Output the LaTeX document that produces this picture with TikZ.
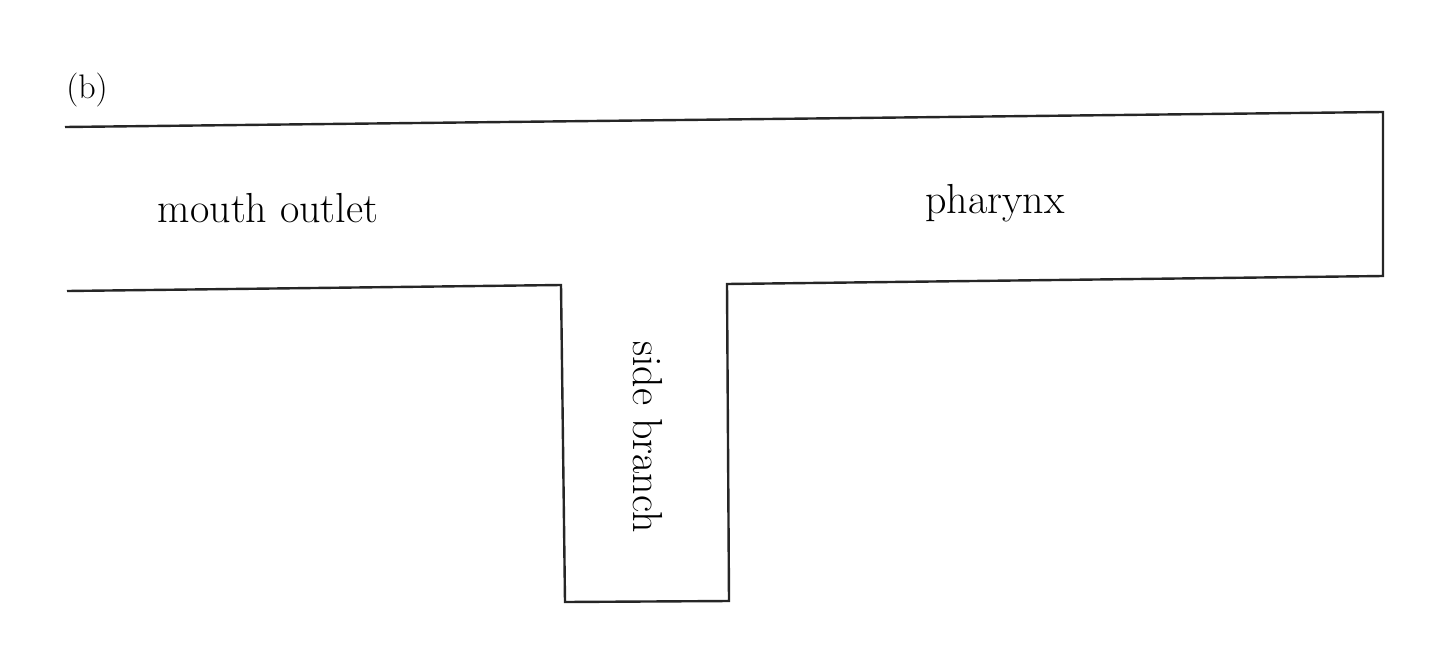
\documentclass[tikz,border=0pt]{standalone}
\begin{document}
\begin{tikzpicture}[x=1pt,y=-1pt,
  wall/.style={draw=black!85,line width=2.4pt,line join=miter},
  lbl/.style={inner sep=0pt,font=\fontsize{42}{48}\selectfont}]
\useasboundingbox (0,0) rectangle (1440,648);
\coordinate (tl) at (65,127);
\coordinate (tr) at (1383,112);
\coordinate (br) at (1383,276);
\coordinate (sr) at (727,284);
\coordinate (sbr) at (729,601);
\coordinate (sbl) at (565,602);
\coordinate (sl) at (561,285);
\coordinate (bl) at (67,291);
\draw[wall] (tl) -- (tr) -- (br) -- (sr) -- (sbr) -- (sbl) -- (sl) -- (bl);
\node[lbl,font=\fontsize{34}{40}\selectfont] (b) at (87,90) {(b)};
\node[lbl] (mo) at (268,208) {mouth outlet};
\node[lbl] (ph) at (995,203) {pharynx};
\node[lbl,rotate=-90] (sb) at (648,437) {side branch};
\end{tikzpicture}
\end{document}
